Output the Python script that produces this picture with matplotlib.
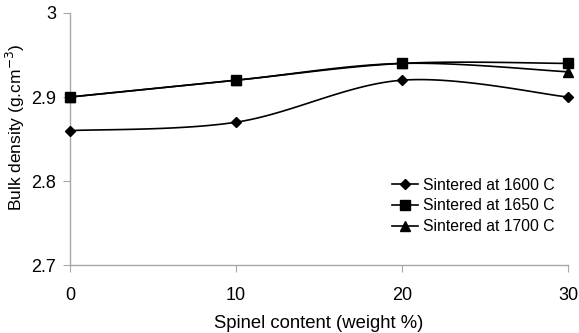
import numpy as np
import matplotlib
matplotlib.use("Agg")
import matplotlib.pyplot as plt
from matplotlib.lines import Line2D

plt.rcParams['font.family'] = ['Liberation Sans', 'DejaVu Sans']

spinel = [0, 10, 20, 30]
s1600 = [2.86, 2.87, 2.92, 2.90]
s1650 = [2.90, 2.92, 2.94, 2.94]
s1700 = [2.90, 2.92, 2.94, 2.93]
labels = ["Sintered at 1600 C", "Sintered at 1650 C", "Sintered at 1700 C"]
markers = ["D", "s", "^"]
msizes = [5, 7, 7]
xticks = [0, 10, 20, 30]
yticks = [2.7, 2.8, 2.9, 3.0]
ytick_labels = ["2.7", "2.8", "2.9", "3"]


def smooth(x, y, n=40):
    P = np.column_stack([x, y]).astype(float)
    Pe = np.vstack([P[0], P, P[-1]])
    out = []
    for i in range(len(P) - 1):
        p0, p1, p2, p3 = Pe[i], Pe[i + 1], Pe[i + 2], Pe[i + 3]
        c1 = p1 + (p2 - p0) / 6.0
        c2 = p2 - (p3 - p1) / 6.0
        t = np.linspace(0, 1, n)[:, None]
        seg = ((1 - t) ** 3) * p1 + 3 * ((1 - t) ** 2) * t * c1 + 3 * (1 - t) * t ** 2 * c2 + t ** 3 * p2
        out.append(seg if i == 0 else seg[1:])
    S = np.vstack(out)
    return S[:, 0], S[:, 1]


fig = plt.figure(figsize=(5.79, 3.33), dpi=100)
ax = fig.add_axes([0.1209, 0.204, 0.860, 0.757])

handles = []
for ys, m, ms, lab in zip([s1600, s1650, s1700], markers, msizes, labels):
    sx, sy = smooth(np.array(spinel) / 30.0 * 498, (np.array(ys) - 2.7) / 0.3 * 252)
    ax.plot(sx / 498 * 30, sy / 252 * 0.3 + 2.7, color='black', lw=1.2, zorder=2)
    ax.plot(spinel, ys, linestyle='none', marker=m, markersize=ms, color='black', zorder=3, clip_on=False)
    handles.append(Line2D([], [], color='black', lw=1.2, marker=m, markersize=ms))

ax.set_xlim(0, 30)
ax.set_ylim(2.7, 3.0)
ax.set_xticks(xticks)
ax.set_yticks(yticks)
ax.set_yticklabels(ytick_labels)
for s in ['top', 'right']:
    ax.spines[s].set_visible(False)
for s in ['left', 'bottom']:
    ax.spines[s].set_color('#a8a8a8')
    ax.spines[s].set_linewidth(1.0)
ax.tick_params(axis='both', colors='#a8a8a8', labelcolor='black', labelsize=13, length=5, direction='out')
ax.tick_params(axis='x', pad=11)
ax.tick_params(axis='y', pad=5)

ax.set_xlabel("Spinel content (weight %)", fontsize=13.3, labelpad=8)
fig.text(15 / 579, 1 - 127 / 333, "Bulk density (g.cm$^{-3}$)", fontsize=12.5,
         rotation=90, ha='center', va='center')

leg = ax.legend(handles, labels, loc='upper left', bbox_to_anchor=(384 / 579, 1 - 170 / 333),
                bbox_transform=fig.transFigure, fontsize=11.3, frameon=False,
                handlelength=1.65, handletextpad=0.32, borderpad=0.5,
                labelspacing=0.36, borderaxespad=0)

fig.savefig("out.png", dpi=100)
